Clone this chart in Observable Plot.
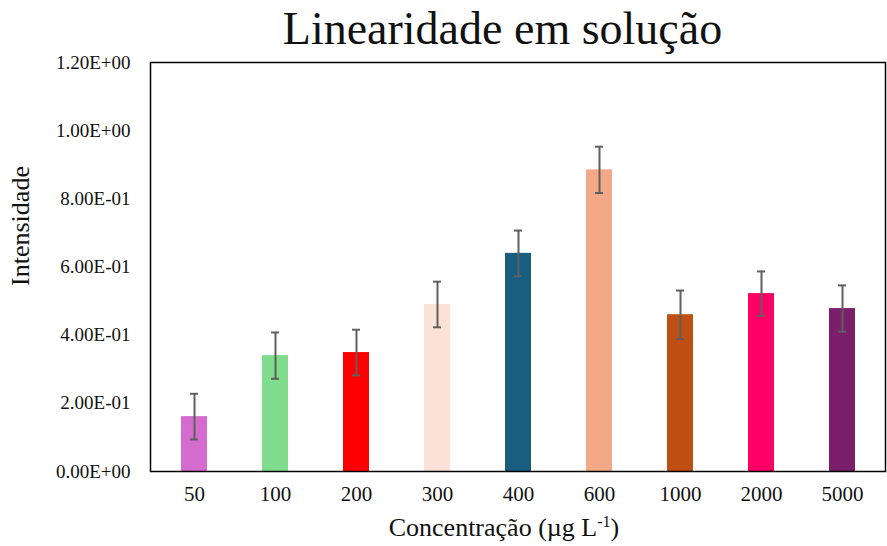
<!DOCTYPE html>
<html>
<head>
<meta charset="utf-8">
<script src="https://cdn.jsdelivr.net/npm/d3@7"></script>
<script src="https://cdn.jsdelivr.net/npm/@observablehq/plot@0.6"></script>
<style>
  html, body { margin: 0; padding: 0; background: #fff; }
  #chart { position: relative; width: 887px; height: 546px; overflow: hidden; font-family: "Liberation Serif", "Times New Roman", serif; color: #111; }
  #title { position: absolute; left: 118px; width: 769px; top: 6px; text-align: center; font-size: 46px; line-height: 1; white-space: nowrap; z-index: 1; }
  #plot { position: absolute; left: 0; top: 40px; }
  #xlabel { position: absolute; left: 121px; width: 766px; top: 515px; text-align: center; font-size: 26px; line-height: 1; white-space: nowrap; }
  #xlabel sup { font-size: 0.62em; vertical-align: 0; position: relative; top: -0.55em; }
</style>
</head>
<body>
<div id="chart">
  <div id="plot"></div>
  <div id="title">Linearidade em solução</div>
  <div id="xlabel">Concentração (µg L<sup>-1</sup>)</div>
</div>
<script>
// Concentrations (µg L-1), mean intensities and their error half-widths
const concentrations = ["50", "100", "200", "300", "400", "600", "1000", "2000", "5000"];
const intensities = [0.161, 0.340, 0.349, 0.490, 0.640, 0.885, 0.460, 0.522, 0.478];
const errors = [0.067, 0.068, 0.067, 0.067, 0.067, 0.068, 0.071, 0.065, 0.068];
const barColors = ["#d46ccf", "#7fdc8d", "#ff0000", "#fbe1d6", "#195d7f", "#f3a987", "#bf4f13", "#ff0066", "#7b1f6b"];
const yTicks = [0, 0.2, 0.4, 0.6, 0.8, 1.0, 1.2];

const rows = concentrations.map((c, i) => ({
  c,
  v: intensities[i],
  lo: intensities[i] - errors[i],
  hi: intensities[i] + errors[i],
  color: barColors[i]
}));

// Scientific notation with a two-digit exponent, e.g. 1.20E+00
const sci = d => {
  const [m, e] = d.toExponential(2).split("e");
  const n = Math.abs(+e);
  return `${m}E${+e < 0 ? "-" : "+"}${String(n).padStart(2, "0")}`;
};

const errStroke = "#5f5f5f";

const chart = Plot.plot({
  width: 887,
  height: 476,
  marginLeft: 150,
  marginRight: 2,
  marginTop: 22,
  marginBottom: 45,
  style: { fontFamily: "'Liberation Serif', 'Times New Roman', serif", background: "transparent", color: "#111" },
  x: { domain: concentrations, paddingInner: 0.68, paddingOuter: 0.34, label: null },
  y: { domain: [0, 1.2], label: null },
  color: { type: "identity" },
  marks: [
    Plot.barY(rows, { x: "c", y: "v", fill: "color" }),
    Plot.ruleX(rows, { x: "c", y1: "lo", y2: "hi", stroke: errStroke, strokeWidth: 2 }),
    Plot.tickY(rows, { x: "c", y: "hi", stroke: errStroke, strokeWidth: 2, insetLeft: 9, insetRight: 9 }),
    Plot.tickY(rows, { x: "c", y: "lo", stroke: errStroke, strokeWidth: 2, insetLeft: 9, insetRight: 9 }),
    Plot.frame({ stroke: "#000", strokeWidth: 1.5 }),
    Plot.axisY({ ticks: yTicks, tickFormat: sci, tickSize: 0, tickPadding: 20, fontSize: 19, label: null }),
    Plot.axisX({ tickSize: 0, tickPadding: 15, fontSize: 21, label: null }),
    Plot.text(["Intensidade"], { frameAnchor: "left", textAnchor: "middle", dx: -130, dy: -41, rotate: -90, fontSize: 26, fill: "#111" })
  ]
});

document.getElementById("plot").append(chart);
</script>
</body>
</html>
